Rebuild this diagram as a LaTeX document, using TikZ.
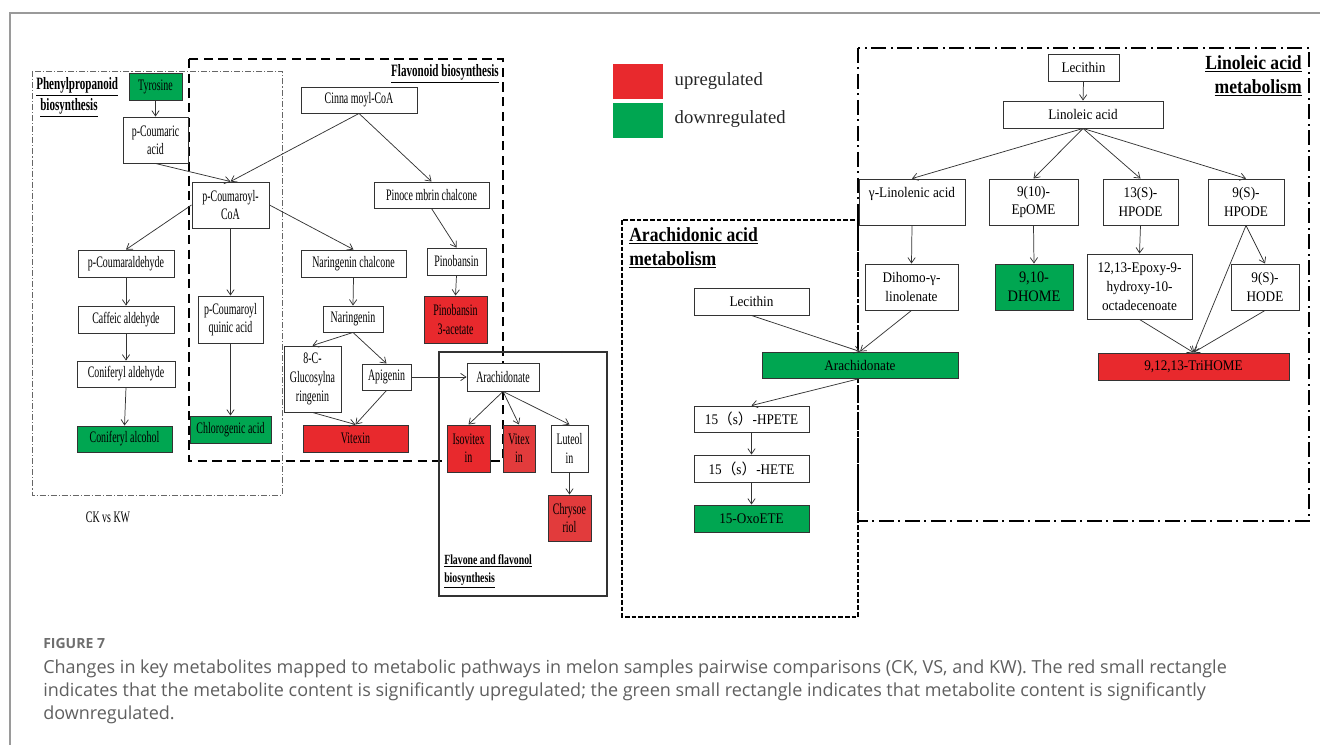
\documentclass[tikz,border=0pt]{standalone}
\usepackage{fontspec}
\setmainfont{Liberation Serif}
\newfontfamily\lfont[FakeStretch=0.62]{Liberation Serif}
\newfontfamily\rfont[FakeStretch=0.9]{Liberation Serif}
\newfontfamily\lblA[FakeStretch=0.64]{Liberation Serif}
\newfontfamily\lblB[FakeStretch=0.88]{Liberation Serif}
\newfontfamily\lblC[FakeStretch=0.7]{Liberation Serif}
\newfontfamily\capfont{Open Sans}
\newfontfamily\cjkfont{Noto Sans CJK SC}
\usetikzlibrary{arrows.meta}
\definecolor{upred}{HTML}{E8292D}
\definecolor{upredb}{HTML}{E23B3C}
\definecolor{downgreen}{HTML}{00A651}
\definecolor{capgray}{HTML}{5F5F5F}
\definecolor{figgray}{HTML}{6E6E6E}
\definecolor{framegray}{HTML}{9A9A9A}
% box from corners: style, name, x1, y1, x2, y2, text
\newcommand\mkbox[7]{\node[#1, minimum width={(#5-#3)*0.75pt}, minimum height={(#6-#4)*0.75pt}] (#2) at ({(#3+#5)/2},{(#4+#6)/2}) {#7};}
\begin{document}
\begin{tikzpicture}[x=0.75pt,y=-0.75pt,
  lbox/.style={draw=black!80, line width=0.7pt, fill=white, inner sep=0pt, align=center,
    font=\lfont\fontsize{12}{13.8}\selectfont},
  rbox/.style={draw=black!80, line width=0.7pt, fill=white, inner sep=0pt, align=center,
    font=\rfont\fontsize{11}{14.2}\selectfont},
  lup/.style={lbox, fill=upred}, lupb/.style={lbox, fill=upredb}, ldown/.style={lbox, fill=downgreen},
  rup/.style={rbox, fill=upred}, rdown/.style={rbox, fill=downgreen},
  arr/.style={-{Straight Barb[length=4pt,width=5.5pt]}, draw=black!80, line width=0.55pt},
  phenframe/.style={draw=black!60, line width=0.6pt, dash pattern=on 4.5pt off 1.5pt on 0.8pt off 1.5pt},
  flavframe/.style={draw=black, line width=1.5pt, dash pattern=on 7pt off 4pt},
  flvnframe/.style={draw=black!80, line width=1.1pt},
  arachframe/.style={draw=black, line width=1.1pt, dash pattern=on 3.5pt off 1.5pt},
  linframe/.style={draw=black, line width=1.5pt, dash pattern=on 11pt off 3.5pt on 1.5pt off 3.5pt},
  legsq/.style={inner sep=0pt, draw=none},
  legtxt/.style={anchor=west, font=\fontsize{14}{16}\selectfont, text=black!85}
]
\useasboundingbox (0,0) rectangle (1320,745);
% page frame
\draw[framegray, line width=1.1pt] (1320,13) -- (10,13) -- (10,745);

% pathway frames
\draw[phenframe] (32,71) rectangle (282,495);
\draw[flavframe] (189,59) rectangle (503,461);
\draw[flvnframe] (439,352) rectangle (607,596);
\draw[arachframe] (622,220) rectangle (858,617);
\draw[linframe] (858,48) rectangle (1309,521);

% frame labels
\node[anchor=north west, align=left, inner sep=0pt, font=\lblA\bfseries\fontsize{13}{16}\selectfont] (lphen) at (36,77)
  {\underline{Phenylpropanoid}\\\hspace*{3pt}\underline{biosynthesis}};
\node[anchor=north east, inner sep=0pt, font=\lblA\bfseries\fontsize{13}{16}\selectfont] (lflav) at (499,64)
  {\underline{Flavonoid biosynthesis}};
\node[anchor=north west, align=left, inner sep=0pt, font=\lblC\bfseries\fontsize{10.5}{14}\selectfont] (lflvn) at (444,554)
  {\underline{Flavone and flavonol}\\\underline{biosynthesis}};
\node[anchor=north west, align=left, inner sep=0pt, font=\lblB\bfseries\fontsize{15}{18}\selectfont] (larach) at (629,227)
  {\underline{Arachidonic acid}\\\underline{metabolism}};
\node[anchor=north east, align=right, inner sep=0pt, font=\lblB\bfseries\fontsize{15}{18}\selectfont] (llin) at (1302,55)
  {\underline{Linoleic acid}\\\underline{metabolism}};

% legend
\mkbox{legsq, fill=upred}{legup}{613}{64}{663}{99}{}
\mkbox{legsq, fill=downgreen}{legdown}{613}{103}{663}{138}{}
\node[legtxt] (legupt) at (670,81) {upregulated};
\node[legtxt] (legdownt) at (670,119) {downregulated};

% phenylpropanoid / flavonoid nodes
\mkbox{ldown}{tyr}{129}{73}{182}{100}{Tyrosine}
\mkbox{lbox}{pcoum}{123}{117}{188}{163}{p-Coumaric\\acid}
\mkbox{lbox}{pcoa}{192}{182}{269}{228}{p-Coumaroyl-\\CoA}
\mkbox{lbox}{cinna}{301}{87}{417}{113}{Cinna moyl-CoA}
\mkbox{lbox}{pinoce}{374}{182}{489}{208}{Pinoce mbrin chalcone}
\mkbox{lbox}{pcald}{78}{250}{174}{277}{p-Coumaraldehyde}
\mkbox{lbox}{caff}{78}{306}{174}{333}{Caffeic aldehyde}
\mkbox{lbox}{conald}{77}{361}{175}{387}{Coniferyl aldehyde}
\mkbox{ldown}{conalc}{77}{426}{172}{452}{Coniferyl alcohol}
\mkbox{lbox}{quinic}{198}{296}{263}{343}{p-Coumaroyl\\quinic acid}
\mkbox{ldown}{chloro}{190}{416}{271}{443}{Chlorogenic acid}
\mkbox{lbox}{narch}{301}{250}{406}{277}{Naringenin chalcone}
\mkbox{lbox}{pinob}{427}{248}{486}{275}{Pinobansin}
\mkbox{lup}{pinoac}{424}{296}{487}{343}{Pinobansin\\3-acetate}
\mkbox{lbox}{naring}{323}{306}{383}{332}{Naringenin}
\mkbox{lbox, font=\lfont\fontsize{12}{14.3}\selectfont}{gluc}{284}{346}{341}{412}{8-C-\\Glucosylna\\ringenin}
\mkbox{lbox}{apig}{362}{364}{411}{390}{Apigenin}
\mkbox{lup}{vitexin}{303}{425}{408}{452}{Vitexin}
\mkbox{lbox}{arachF}{467}{363}{539}{391}{Arachidonate}
\mkbox{lup}{isov}{447}{425}{490}{472}{Isovitex\\in}
\mkbox{lupb}{vitex}{503}{425}{535}{472}{Vitex\\in}
\mkbox{lbox}{luteol}{551}{425}{588}{472}{Luteol\\in}
\mkbox{lupb}{chrys}{548}{495}{591}{541}{Chrysoe\\riol}

\node[font=\lfont\fontsize{12}{14}\selectfont, inner sep=0pt] (ckkw) at (108,517) {CK vs KW};

% arachidonic nodes
\mkbox{rbox}{lecA}{694}{288}{809}{315}{Lecithin}
\mkbox{rdown}{arachA}{762}{352}{958}{378}{Arachidonate}
\mkbox{rbox}{hpete}{694}{406}{809}{432}{15{\cjkfont （}s{\cjkfont ）}-HPETE}
\mkbox{rbox}{hete}{694}{455}{809}{482}{15{\cjkfont （}s{\cjkfont ）}-HETE}
\mkbox{rdown}{oxo}{694}{505}{809}{532}{15-OxoETE}

% linoleic nodes
\mkbox{rbox}{lecL}{1048}{54}{1119}{81}{Lecithin}
\mkbox{rbox}{linac}{1003}{101}{1163}{128}{Linoleic acid}
\mkbox{rbox}{gamma}{859}{179}{965}{225}{γ-Linolenic acid\\\mbox{}}
\mkbox{rbox}{epome}{989}{179}{1078}{225}{9(10)-\\EpOME}
\mkbox{rbox}{hpode13}{1103}{179}{1178}{225}{13(S)-\\HPODE}
\mkbox{rbox}{hpode9}{1208}{179}{1284}{225}{9(S)-\\HPODE}
\mkbox{rbox}{dihomo}{865}{264}{958}{310}{Dihomo-γ-\\linolenate}
\mkbox{rdown, font=\rfont\fontsize{12}{14.2}\selectfont}{dhome}{995}{264}{1073}{310}{9,10-\\DHOME}
\mkbox{rbox}{epoxy}{1087}{254}{1192}{319}{12,13-Epoxy-9-\\hydroxy-10-\\octadecenoate}
\mkbox{rbox}{hode}{1231}{264}{1299}{310}{9(S)-\\HODE}
\mkbox{rup}{trihome}{1098}{353}{1289}{380}{9,12,13-TriHOME}

% arrows: phenylpropanoid / flavonoid
\draw[arr] (tyr.south) -- (pcoum.north);
\draw[arr] (pcoum.south) -- (pcoa.north);
\draw[arr] (cinna.south) -- (pcoa.north);
\draw[arr] (cinna.south) -- (pinoce.north);
\draw[arr] (pcoa.west) -- (pcald.north);
\draw[arr] (pcoa.east) -- (narch.north);
\draw[arr] (pcoa.south) -- (quinic.north);
\draw[arr] (quinic.south) -- (chloro.north);
\draw[arr] (pcald.south) -- (caff.north);
\draw[arr] (caff.south) -- (conald.north);
\draw[arr] (conald.south) -- (conalc.north);
\draw[arr] (pinoce.south) -- (pinob.north);
\draw[arr] (pinob.south) -- (pinoac.north);
\draw[arr] (narch.south) -- (naring.north);
\draw[arr] (naring.south) -- (gluc.north);
\draw[arr] (naring.south) -- (apig.north);
\draw[arr] (gluc.south) -- (vitexin.north);
\draw[arr] (apig.south) -- (vitexin.north);
\draw[arr] (apig.east) -- (arachF.west);
\draw[arr] (arachF.south) -- (isov.north);
\draw[arr] (arachF.south) -- (vitex.north);
\draw[arr] (arachF.south) -- (luteol.north);
\draw[arr] (luteol.south) -- (chrys.north);

% arrows: arachidonic
\draw[arr] (lecA.south) -- (arachA.north);
\draw[arr] (dihomo.south) -- (arachA.north);
\draw[arr] (arachA.south) -- (hpete.north);
\draw[arr] (hpete.south) -- (hete.north);
\draw[arr] (hete.south) -- (oxo.north);

% arrows: linoleic
\draw[arr] (lecL.south) -- (linac.north);
\draw[arr] (linac.south) -- (gamma.north);
\draw[arr] (linac.south) -- (epome.north);
\draw[arr] (linac.south) -- (hpode13.north);
\draw[arr] (linac.south) -- (hpode9.north);
\draw[arr] (gamma.south) -- (dihomo.north);
\draw[arr] (epome.south) -- (dhome.north);
\draw[arr] (hpode13.south) -- (epoxy.north);
\draw[arr] (hpode9.south) -- (hode.north);
\draw[arr] (hpode9.south) -- (trihome.north);
\draw[arr] (epoxy.south) -- (trihome.north);
\draw[arr] (hode.south) -- (trihome.north);

% caption
\node[anchor=base west, inner sep=0pt, text=figgray, font=\capfont\bfseries\fontsize{10.5}{13}\selectfont] (fig) at (43,648) {FIGURE 7};
\node[anchor=base west, inner sep=0pt, text=capgray, font=\capfont\fontsize{13.5}{24}\selectfont] (cap1) at (43,673)
  {Changes in key metabolites mapped to metabolic pathways in melon samples pairwise comparisons (CK, VS, and KW). The red small rectangle};
\node[anchor=base west, inner sep=0pt, text=capgray, font=\capfont\fontsize{13.5}{24}\selectfont] (cap2) at (43,696)
  {indicates that the metabolite content is significantly upregulated; the green small rectangle indicates that metabolite content is significantly};
\node[anchor=base west, inner sep=0pt, text=capgray, font=\capfont\fontsize{13.5}{24}\selectfont] (cap3) at (43,719)
  {downregulated.};
\end{tikzpicture}
\end{document}
